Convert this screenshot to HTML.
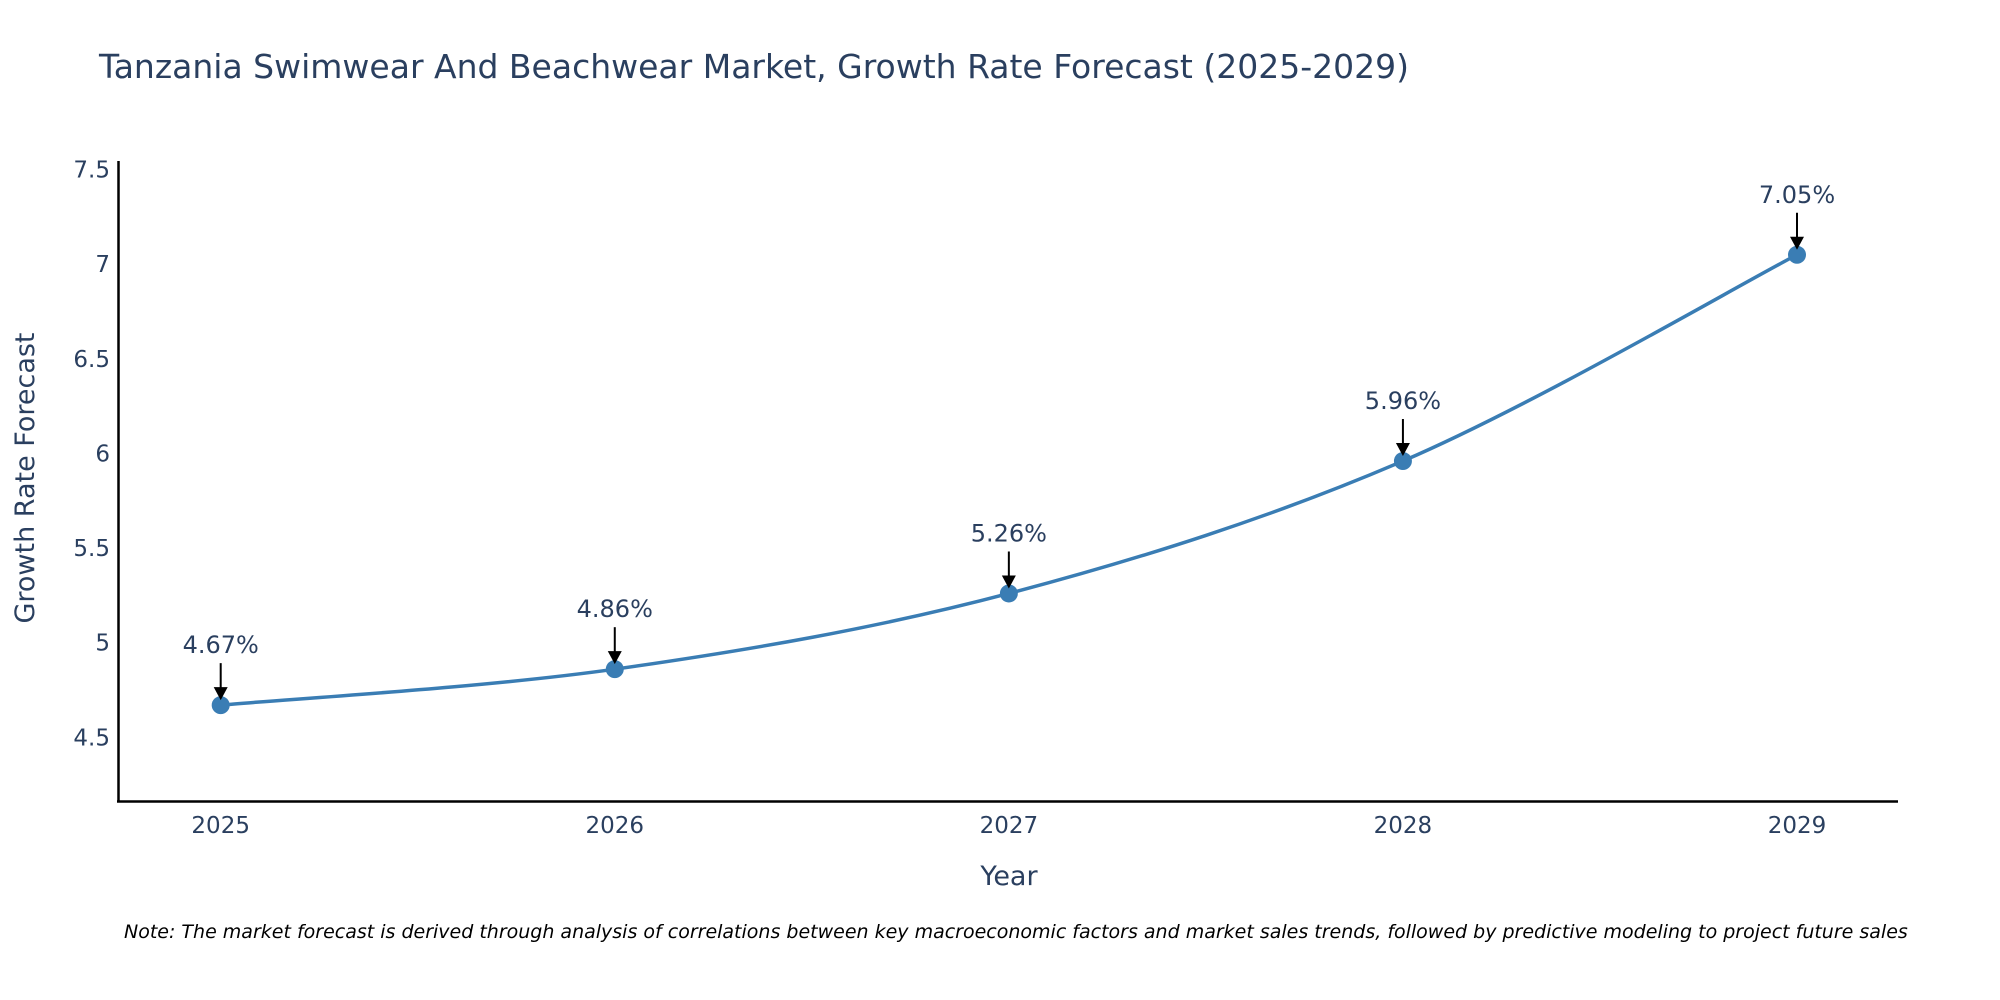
<!DOCTYPE html>
<html><head><meta charset="utf-8"><style>
html,body{margin:0;padding:0;background:#fff;}
svg{display:block;font-family:"DejaVu Sans","Liberation Sans",sans-serif;}
</style></head><body>
<svg id="chart" width="2000" height="1000" viewBox="0 0 2000 1000">
<text x="99" y="78" font-size="33" fill="#2a3f5f">Tanzania Swimwear And Beachwear Market, Growth Rate Forecast (2025-2029)</text>
<g id="yticks"></g>
<g id="xticks"></g>
<line x1="118.5" y1="161" x2="118.5" y2="802" stroke="#000" stroke-width="2.5"/>
<line x1="117" y1="801.5" x2="1898" y2="801.5" stroke="#000" stroke-width="2.5"/>
<path id="line" fill="none" stroke="#3a7db4" stroke-width="3.5"/>
<g id="points"></g>
<g id="ann"></g>
<text x="1009" y="885" font-size="27" fill="#2a3f5f" text-anchor="middle">Year</text>
<text transform="translate(34,478) rotate(-90)" font-size="27" fill="#2a3f5f" text-anchor="middle">Growth Rate Forecast</text>
<text x="124" y="938" font-size="19" font-style="italic" fill="#000">Note: The market forecast is derived through analysis of correlations between key macroeconomic factors and market sales trends, followed by predictive modeling to project future sales</text>
</svg>
<script>
const years=[2025,2026,2027,2028,2029];
const values=[4.67,4.86,5.26,5.96,7.05];
const labels=["4.67%","4.86%","5.26%","5.96%","7.05%"];
const yTicks=[4.5,5,5.5,6,6.5,7,7.5];
const yTickLabels=["4.5","5","5.5","6","6.5","7","7.5"];
const NS="http://www.w3.org/2000/svg";
function xs(v){return 220.7+(v-2025)*(1797-220.7)/4;}
function ys(v){return 737.3-(v-4.5)*(737.3-169.6)/3;}
function mk(t,a,p){const e=document.createElementNS(NS,t);for(const k in a)e.setAttribute(k,a[k]);p.appendChild(e);return e;}
const yt=document.getElementById('yticks');
yTicks.forEach((v,i)=>{const t=mk('text',{x:110,y:ys(v)+8,'font-size':23,fill:'#2a3f5f','text-anchor':'end'},yt);


t.textContent=yTickLabels[i];});
const xt=document.getElementById('xticks');
years.forEach(y=>{const t=mk('text',{x:xs(y),y:833,'font-size':23,fill:'#2a3f5f','text-anchor':'middle'},xt);


t.textContent=String(y);});
const P=years.map((y,i)=>[xs(y),ys(values[i])]);
let d='M'+P[0][0]+','+P[0][1];
for(let i=0;i<P.length-1;i++){const p0=P[Math.max(i-1,0)],p1=P[i],p2=P[i+1],p3=P[Math.min(i+2,P.length-1)];const s=1/6;
d+=' C'+(p1[0]+(p2[0]-p0[0])*s)+','+(p1[1]+(p2[1]-p0[1])*s)+' '+(p2[0]-(p3[0]-p1[0])*s)+','+(p2[1]-(p3[1]-p1[1])*s)+' '+p2[0]+','+p2[1];}
document.getElementById('line').setAttribute('d',d);
const pg=document.getElementById('points'),ag=document.getElementById('ann');
P.forEach((p,i)=>{const c=mk('circle',{cx:p[0],cy:p[1],r:9,fill:'#3a7db4'},pg);


const l=mk('line',{x1:p[0],y1:p[1]-42,x2:p[0],y2:p[1]-14,stroke:'#000','stroke-width':2},ag);


const h=mk('path',{d:`M${p[0]-7},${p[1]-18} L${p[0]+7},${p[1]-18} L${p[0]},${p[1]-5} Z`,fill:'#000'},ag);


const t=mk('text',{x:p[0],y:p[1]-52,'font-size':24,fill:'#2a3f5f','text-anchor':'middle'},ag);


t.textContent=labels[i];});
</script>
</body></html>
